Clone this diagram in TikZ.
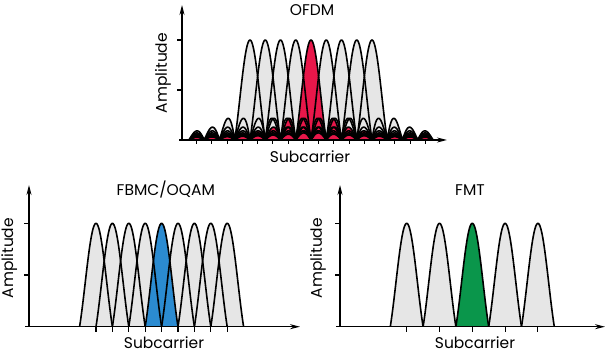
\documentclass[tikz,border=0pt]{standalone}
\usepackage{fontspec}
\setmainfont{Poppins}
\usetikzlibrary{arrows.meta}

\definecolor{lobegray}{HTML}{E6E6E6}
\definecolor{ofdmred}{HTML}{E8174A}
\definecolor{fbmcblue}{HTML}{2B8BD1}
\definecolor{fmtgreen}{HTML}{0A964B}

\begin{document}
\begin{tikzpicture}[x=1pt,y=1pt,
	axisline/.style={line width=1.4pt,-{Stealth[length=10pt,width=5pt]}},
	tickline/.style={line width=1.1pt},
	lobe/.style={line width=1.6pt,line join=round},
	axistext/.style={font=\fontsize{15.5}{18}\selectfont,inner sep=0pt},
	declare function={sinc(\u)=sin(180*\u)/(pi*\u);}]
\useasboundingbox (0,0) rectangle (611,361);

% OFDM
\begin{scope}[shift={(182,221)}]
	\foreach \k in {0,...,8}
		\fill[lobegray] plot[domain=-4:12,samples=320] ({68+15.25*\x},{100*abs(sinc(\x-\k))});
	\fill[ofdmred] plot[domain=-4:12,samples=320] ({68+15.25*\x},{100*abs(sinc(\x-4))});
	\foreach \k in {0,...,8}
		\draw[lobe] plot[domain=-4:12,samples=320] ({68+15.25*\x},{100*abs(sinc(\x-\k))});

	\draw[axisline] (-3,0) -- (265,0);
	\draw[axisline] (0,0) -- (0,135);
	\draw[tickline] (-5,100) -- (0,100);
	\draw[tickline] (-5,50) -- (0,50);
	\foreach \j in {-3,...,12}
		\draw[tickline] ({68+15.25*(\j-0.5)},0) -- ++(0,-4);

	\node[axistext] (ofdmtitle) at (130,130) {OFDM};
	\node[axistext,rotate=90] (ofdmamp) at (-19,67) {Amplitude};
	\node[axistext] (ofdmsub) at (128,-17) {Subcarrier};
\end{scope}

% FBMC/OQAM
\begin{scope}[shift={(29,34.3)}]
	\foreach \k in {0,...,8}
		\fill[lobegray] plot[domain=-1:1,samples=40] ({67+16.4*(\k+\x)},{103.4*sinc(\x)});
	\fill[fbmcblue] plot[domain=-1:1,samples=40] ({67+16.4*(4+\x)},{103.4*sinc(\x)});
	\foreach \k in {0,...,8}
		\draw[lobe] plot[domain=-1:1,samples=40] ({67+16.4*(\k+\x)},{103.4*sinc(\x)});

	\draw[axisline] (-4,0) -- (271,0);
	\draw[axisline] (0,0) -- (0,141.7);
	\draw[tickline] (-5,103.4) -- (0,103.4);
	\draw[tickline] (-5,51.7) -- (0,51.7);
	\foreach \k in {0,...,8}
		\draw[tickline] ({67+16.4*\k},0) -- ++(0,-5);

	\node[axistext] (fbmctitle) at (136.8,137) {FBMC/OQAM};
	\node[axistext,rotate=90] (fbmcamp) at (-19.7,68.7) {Amplitude};
	\node[axistext] (fbmcsub) at (135,-16.3) {Subcarrier};
\end{scope}

% FMT
\begin{scope}[shift={(340,34.3)}]
	\foreach \k in {0,...,4}
		\fill[lobegray] plot[domain=-1:1,samples=40] ({66.7+32.8*\k+16.4*\x},{103.4*sinc(\x)});
	\fill[fmtgreen] plot[domain=-1:1,samples=40] ({66.7+32.8*2+16.4*\x},{103.4*sinc(\x)});
	\foreach \k in {0,...,4}
		\draw[lobe] plot[domain=-1:1,samples=40] ({66.7+32.8*\k+16.4*\x},{103.4*sinc(\x)});

	\draw[axisline] (-4,0) -- (265,0);
	\draw[axisline] (0,0) -- (0,141.7);
	\draw[tickline] (-5,103.4) -- (0,103.4);
	\draw[tickline] (-5,51.7) -- (0,51.7);
	\foreach \k in {0,...,4}
		\draw[tickline] ({66.7+32.8*\k},0) -- ++(0,-5);

	\node[axistext] (fmttitle) at (130,137) {FMT};
	\node[axistext,rotate=90] (fmtamp) at (-22,68.7) {Amplitude};
	\node[axistext] (fmtsub) at (135,-16.3) {Subcarrier};
\end{scope}
\end{tikzpicture}
\end{document}
